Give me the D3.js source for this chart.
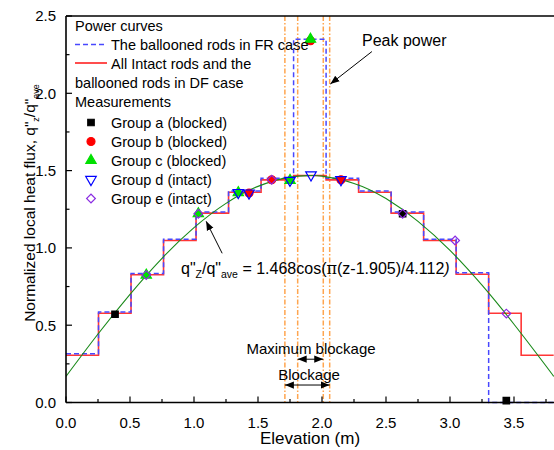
<!DOCTYPE html>
<html><head><meta charset="utf-8">
<script src="https://cdn.jsdelivr.net/npm/d3@7"></script>
<style>body{margin:0;background:#fff}svg{display:block}text{font-family:"Liberation Sans",Arial,sans-serif;fill:#000}</style>
</head><body>
<script>
// ---- data ----
const stepEdges = [0,0.254,0.508,0.762,1.016,1.27,1.524,1.778,2.032,2.286,2.54,2.794,3.048,3.302,3.556,3.81];
const redSteps  = [0.306,0.577,0.826,1.048,1.225,1.360,1.440,1.468,1.440,1.360,1.225,1.048,0.830,0.577,0.306];
const blueSteps = [0.316,0.585,0.835,1.056,1.232,1.368,1.450,2.350,1.450,1.368,1.232,1.056,0.840,0.000,0.000];
const fitZ   = [0,0.25,0.5,0.75,1.0,1.25,1.5,1.75,1.905,2.0,2.25,2.5,2.75,3.0,3.25,3.5,3.75,3.81];
const fitQ   = [0.169,0.443,0.700,0.933,1.131,1.288,1.398,1.458,1.468,1.464,1.417,1.319,1.172,0.984,0.759,0.506,0.236,0.169];
const groupA = [[0.383,0.571],[2.63,1.221],[3.44,0.012]];
const groupB = [[1.43,1.355],[1.607,1.441],[1.91,2.34],[2.148,1.441]];
const groupC = [[0.627,0.824],[1.034,1.221],[1.346,1.358],[1.75,1.437],[1.91,2.35]];
const groupD = [[1.346,1.358],[1.43,1.355],[1.75,1.437],[1.914,1.472],[2.148,1.441]];
const groupE = [[0.627,0.824],[1.034,1.221],[1.607,1.441],[2.63,1.221],[3.04,1.048],[3.44,0.575]];
const blockLines = [1.71,1.81,2.01,2.06];
const xTicks = [0,0.5,1.0,1.5,2.0,2.5,3.0,3.5];
const yTicks = [0,0.5,1.0,1.5,2.0,2.5];

const W=554,H=450;
const x = d3.scaleLinear().domain([0,4]).range([66,578]);
const y = d3.scaleLinear().domain([0,2.5]).range([402.5,16]);
const svg = d3.select("body").append("svg").attr("width",W).attr("height",H);
const defs = svg.append("defs");
defs.append("clipPath").attr("id","clip").append("rect").attr("x",66).attr("y",10).attr("width",490).attr("height",400);
defs.append("marker").attr("id","ah").attr("viewBox","0 0 10 10").attr("refX",10).attr("refY",5)
  .attr("markerWidth",9).attr("markerHeight",9).attr("markerUnits","userSpaceOnUse").attr("orient","auto-start-reverse")
  .append("path").attr("d","M0,1L10,5L0,9Z").attr("fill","#000");

const g = svg.append("g").attr("clip-path","url(#clip)");

// blockage vertical lines
blockLines.forEach(b=>{
  g.append("line").attr("x1",x(b)).attr("x2",x(b)).attr("y1",y(2.5)).attr("y2",y(0))
   .attr("stroke","#ffa54f").attr("stroke-width",1.5).attr("stroke-dasharray","5,2,1.5,2");
});

// step curves
function stepPts(vals){ const p=vals.map((v,i)=>[stepEdges[i],v]); p.push([stepEdges[stepEdges.length-1],vals[vals.length-1]]); return p; }
const stepLine = d3.line().x(d=>x(d[0])).y(d=>y(d[1])).curve(d3.curveStepAfter);
g.append("path").attr("d",stepLine(stepPts(redSteps))).attr("fill","none").attr("stroke","#ff2020").attr("stroke-width",1.6).attr("stroke-opacity",0.9);
g.append("path").attr("d",stepLine(stepPts(blueSteps))).attr("fill","none").attr("stroke","#4848ff").attr("stroke-width",1.5).attr("stroke-dasharray","5,3");

// fitted curve
const fitLine = d3.line().x((d,i)=>x(fitZ[i])).y(d=>y(d)).curve(d3.curveNatural);
g.append("path").attr("d",fitLine(fitQ)).attr("fill","none").attr("stroke","#1a8a1a").attr("stroke-width",1.1);

// markers
function sym(type,size){ return d3.symbol().type(type).size(size)(); }
function drawGroup(data,type,size,fill,stroke,rot){
  g.selectAll(null).data(data).enter().append("path").attr("d",sym(type,size))
   .attr("transform",d=>`translate(${x(d[0])},${y(d[1])}) rotate(${rot||0})`)
   .attr("fill",fill).attr("stroke",stroke).attr("stroke-width",1.2);
}
drawGroup(groupA,d3.symbolSquare,42,"#000","#000");
drawGroup(groupB,d3.symbolCircle,50,"#ff0000","#ff0000");
drawGroup(groupC,d3.symbolTriangle,46,"#00e000","#00e000");
drawGroup(groupD,d3.symbolTriangle,48,"none","#0000ff",180);
drawGroup(groupE,d3.symbolSquare,38,"none","#8a2be2",45);

// axes frame
svg.append("line").attr("x1",66).attr("x2",W).attr("y1",y(2.5)).attr("y2",y(2.5)).attr("stroke","#000").attr("stroke-width",1.5);
svg.append("line").attr("x1",66).attr("x2",W).attr("y1",y(0)).attr("y2",y(0)).attr("stroke","#000").attr("stroke-width",1.6);
svg.append("line").attr("x1",66).attr("x2",66).attr("y1",y(2.5)).attr("y2",y(0)).attr("stroke","#000").attr("stroke-width",1.6);

// x ticks
d3.range(0,4.01,0.25).forEach(v=>{
  const major = Math.abs(v*2-Math.round(v*2))<1e-6;
  svg.append("line").attr("x1",x(v)).attr("x2",x(v)).attr("y1",y(0)).attr("y2",y(0)-(major?6:3.5)).attr("stroke","#000").attr("stroke-width",1.2);
});
svg.selectAll(null).data(xTicks).enter().append("text").attr("x",d=>x(d)).attr("y",427.5)
  .attr("text-anchor","middle").attr("font-size",15).text(d=>d3.format(".1f")(d));
// y ticks
d3.range(0,2.51,0.25).forEach(v=>{
  const major = Math.abs(v*2-Math.round(v*2))<1e-6;
  svg.append("line").attr("x1",66).attr("x2",66+(major?6:3.5)).attr("y1",y(v)).attr("y2",y(v)).attr("stroke","#000").attr("stroke-width",1.2);
});
svg.selectAll(null).data(yTicks).enter().append("text").attr("x",56).attr("y",d=>y(d)+5.3)
  .attr("text-anchor","end").attr("font-size",15).text(d=>d3.format(".1f")(d));

// axis titles
svg.append("text").attr("x",310).attr("y",444).attr("text-anchor","middle").attr("font-size",17).text("Elevation (m)");
const yt = svg.append("text").attr("transform","translate(35,203) rotate(-90)").attr("text-anchor","middle").attr("font-size",15.5);
yt.append("tspan").text("Normalized local heat flux, q\"");
yt.append("tspan").attr("font-size",9).attr("dy",4).text("z");
yt.append("tspan").attr("dy",-4).text("/q\"");
yt.append("tspan").attr("font-size",9).attr("dy",4).text("ave");

// legend
const lg = svg.append("g");
const lx = 75, tx = 111;
lg.append("text").attr("x",lx).attr("y",30.5).attr("font-size",14.5).text("Power curves");
lg.append("line").attr("x1",lx).attr("x2",107).attr("y1",44.5).attr("y2",44.5).attr("stroke","#4848ff").attr("stroke-width",1.5).attr("stroke-dasharray","5,3");
lg.append("text").attr("x",tx).attr("y",49.5).attr("font-size",14.5).text("The ballooned rods in FR case");
lg.append("line").attr("x1",lx).attr("x2",107).attr("y1",63).attr("y2",63).attr("stroke","#ff2020").attr("stroke-width",1.6);
lg.append("text").attr("x",tx).attr("y",68.5).attr("font-size",14.5).text("All Intact rods and the");
lg.append("text").attr("x",lx).attr("y",87.5).attr("font-size",14.5).text("ballooned rods in DF case");
lg.append("text").attr("x",lx).attr("y",106.5).attr("font-size",14.5).text("Measurements");
const legItems = [
  ["Group a (blocked)",d3.symbolSquare,42,"#000","#000",0],
  ["Group b (blocked)",d3.symbolCircle,50,"#ff0000","#ff0000",0],
  ["Group c (blocked)",d3.symbolTriangle,46,"#00e000","#00e000",0],
  ["Group d (intact)",d3.symbolTriangle,48,"none","#0000ff",180],
  ["Group e (intact)",d3.symbolSquare,38,"none","#8a2be2",45]];
legItems.forEach((it,i)=>{
  const by = 127.5 + i*19;
  lg.append("path").attr("d",sym(it[1],it[2])).attr("transform",`translate(91,${by-5}) rotate(${it[5]})`)
    .attr("fill",it[3]).attr("stroke",it[4]).attr("stroke-width",1.2);
  lg.append("text").attr("x",tx).attr("y",by).attr("font-size",14.5).text(it[0]);
});

// annotations
svg.append("text").attr("x",362).attr("y",46).attr("font-size",16).text("Peak power");
svg.append("line").attr("x1",x(2.39)).attr("y1",y(2.27)).attr("x2",x(2.065)).attr("y2",y(2.06))
  .attr("stroke","#000").attr("stroke-width",1).attr("marker-end","url(#ah)");
const eq = svg.append("text").attr("x",181).attr("y",274).attr("font-size",16);
eq.append("tspan").text("q\"");
eq.append("tspan").attr("font-size",10.5).attr("dy",4).text("Z");
eq.append("tspan").attr("dy",-4).text("/q\"");
eq.append("tspan").attr("font-size",10.5).attr("dy",4).text("ave");
eq.append("tspan").attr("dy",-4).text(" = 1.468cos(");
eq.append("tspan").attr("font-family","DejaVu Serif").text("π");
eq.append("tspan").text("(z-1.905)/4.112");
eq.append("tspan").attr("font-style","italic").text(")");
svg.append("line").attr("x1",x(1.22)).attr("y1",y(0.965)).attr("x2",x(1.095)).attr("y2",y(1.172))
  .attr("stroke","#000").attr("stroke-width",1).attr("marker-end","url(#ah)");

svg.append("text").attr("x",311).attr("y",353.5).attr("text-anchor","middle").attr("font-size",15).text("Maximum blockage");
svg.append("text").attr("x",309).attr("y",379.5).attr("text-anchor","middle").attr("font-size",15).text("Blockage");
svg.append("line").attr("x1",x(blockLines[1])).attr("x2",x(blockLines[2])).attr("y1",y(0.28)).attr("y2",y(0.28))
  .attr("stroke","#000").attr("stroke-width",1).attr("marker-start","url(#ah)").attr("marker-end","url(#ah)");
svg.append("line").attr("x1",x(blockLines[0])).attr("x2",x(blockLines[3])).attr("y1",y(0.113)).attr("y2",y(0.113))
  .attr("stroke","#000").attr("stroke-width",1).attr("marker-start","url(#ah)").attr("marker-end","url(#ah)");
</script>
</body></html>
